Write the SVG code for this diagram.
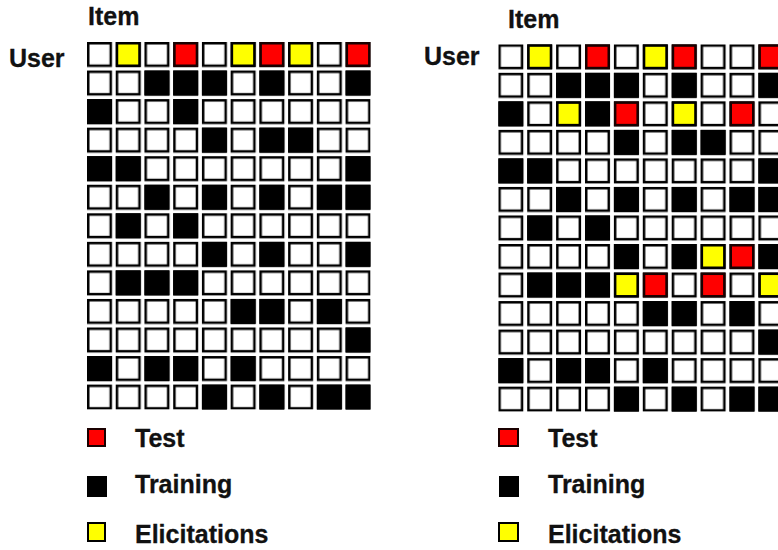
<svg xmlns="http://www.w3.org/2000/svg" width="778" height="550" viewBox="0 0 778 550">
<style>
text{font-family:"Liberation Sans",Arial,sans-serif;font-weight:bold;font-size:25px;fill:#111;stroke:#111;stroke-width:0.3}
.c{width:22.5px;height:22.5px;stroke-width:2.5}
.k{fill:#000;stroke:#000}
.r{fill:#ff0000;stroke:#1a0000}
.y{fill:#ffff00;stroke:#000}
.lg{stroke-width:2}
</style>
<defs>
<pattern id="pl" patternUnits="userSpaceOnUse" x="87" y="42" width="28.73" height="28.55">
<rect x="1.25" y="1.25" width="22.5" height="22.5" fill="#fff" stroke="#000" stroke-width="2.5"/>
</pattern>
<pattern id="pr" patternUnits="userSpaceOnUse" x="498.3" y="44.3" width="28.9" height="28.53">
<rect x="1.25" y="1.25" width="22.5" height="22.5" fill="#fff" stroke="#000" stroke-width="2.5"/>
</pattern>
</defs>
<rect width="778" height="550" fill="#fff"/>

<g id="left-matrix">
<text x="88" y="25">Item</text>
<text x="9" y="67">User</text>
<rect x="87" y="42" width="283.6" height="367.6" fill="url(#pl)"/>
<g transform="translate(88.25,43.25)">
<rect class="c y" x="28.73" y="0"/><rect class="c r" x="86.19" y="0"/><rect class="c y" x="143.65" y="0"/><rect class="c r" x="172.38" y="0"/><rect class="c y" x="201.11" y="0"/><rect class="c r" x="258.57" y="0"/>
<rect class="c k" x="57.46" y="28.55"/><rect class="c k" x="86.19" y="28.55"/><rect class="c k" x="114.92" y="28.55"/><rect class="c k" x="172.38" y="28.55"/><rect class="c k" x="258.57" y="28.55"/>
<rect class="c k" x="0" y="57.1"/><rect class="c k" x="86.19" y="57.1"/>
<rect class="c k" x="114.92" y="85.65"/><rect class="c k" x="172.38" y="85.65"/><rect class="c k" x="201.11" y="85.65"/>
<rect class="c k" x="0" y="114.2"/><rect class="c k" x="28.73" y="114.2"/><rect class="c k" x="258.57" y="114.2"/>
<rect class="c k" x="57.46" y="142.75"/><rect class="c k" x="114.92" y="142.75"/><rect class="c k" x="172.38" y="142.75"/><rect class="c k" x="229.84" y="142.75"/><rect class="c k" x="258.57" y="142.75"/>
<rect class="c k" x="28.73" y="171.3"/><rect class="c k" x="86.19" y="171.3"/>
<rect class="c k" x="114.92" y="199.85"/><rect class="c k" x="172.38" y="199.85"/><rect class="c k" x="258.57" y="199.85"/>
<rect class="c k" x="28.73" y="228.4"/><rect class="c k" x="57.46" y="228.4"/><rect class="c k" x="86.19" y="228.4"/>
<rect class="c k" x="143.65" y="256.95"/><rect class="c k" x="172.38" y="256.95"/><rect class="c k" x="229.84" y="256.95"/>
<rect class="c k" x="258.57" y="285.5"/>
<rect class="c k" x="0" y="314.05"/><rect class="c k" x="57.46" y="314.05"/><rect class="c k" x="86.19" y="314.05"/><rect class="c k" x="143.65" y="314.05"/>
<rect class="c k" x="114.92" y="342.6"/><rect class="c k" x="172.38" y="342.6"/><rect class="c k" x="229.84" y="342.6"/><rect class="c k" x="258.57" y="342.6"/>
</g>
</g>

<g id="left-legend">
<rect class="r lg" x="88" y="429" width="17" height="17"/>
<text x="135" y="447">Test</text>
<rect class="k lg" x="88" y="477" width="18" height="19"/>
<text x="135" y="493">Training</text>
<rect class="y lg" x="88" y="523" width="17" height="18"/>
<text x="135" y="543">Elicitations</text>
</g>

<g id="right-matrix">
<text x="508" y="28">Item</text>
<text x="424" y="65">User</text>
<rect x="498.3" y="44.3" width="280" height="367.4" fill="url(#pr)"/>
<g transform="translate(499.55,45.55)">
<rect class="c y" x="28.9" y="0"/><rect class="c r" x="86.7" y="0"/><rect class="c y" x="144.5" y="0"/><rect class="c r" x="173.4" y="0"/><rect class="c r" x="260.1" y="0"/>
<rect class="c k" x="57.8" y="28.53"/><rect class="c k" x="86.7" y="28.53"/><rect class="c k" x="115.6" y="28.53"/><rect class="c k" x="173.4" y="28.53"/><rect class="c k" x="260.1" y="28.53"/>
<rect class="c k" x="0" y="57.06"/><rect class="c y" x="57.8" y="57.06"/><rect class="c k" x="86.7" y="57.06"/><rect class="c r" x="115.6" y="57.06"/><rect class="c y" x="173.4" y="57.06"/><rect class="c r" x="231.2" y="57.06"/>
<rect class="c k" x="115.6" y="85.59"/><rect class="c k" x="173.4" y="85.59"/><rect class="c k" x="202.3" y="85.59"/>
<rect class="c k" x="0" y="114.12"/><rect class="c k" x="28.9" y="114.12"/><rect class="c k" x="260.1" y="114.12"/>
<rect class="c k" x="57.8" y="142.65"/><rect class="c k" x="115.6" y="142.65"/><rect class="c k" x="173.4" y="142.65"/><rect class="c k" x="231.2" y="142.65"/><rect class="c k" x="260.1" y="142.65"/>
<rect class="c k" x="28.9" y="171.18"/><rect class="c k" x="86.7" y="171.18"/>
<rect class="c k" x="115.6" y="199.71"/><rect class="c k" x="173.4" y="199.71"/><rect class="c y" x="202.3" y="199.71"/><rect class="c r" x="231.2" y="199.71"/><rect class="c k" x="260.1" y="199.71"/>
<rect class="c k" x="28.9" y="228.24"/><rect class="c k" x="57.8" y="228.24"/><rect class="c k" x="86.7" y="228.24"/><rect class="c y" x="115.6" y="228.24"/><rect class="c r" x="144.5" y="228.24"/><rect class="c r" x="202.3" y="228.24"/><rect class="c y" x="260.1" y="228.24"/>
<rect class="c k" x="144.5" y="256.77"/><rect class="c k" x="173.4" y="256.77"/><rect class="c k" x="231.2" y="256.77"/>
<rect class="c k" x="260.1" y="285.3"/>
<rect class="c k" x="0" y="313.83"/><rect class="c k" x="57.8" y="313.83"/><rect class="c k" x="86.7" y="313.83"/><rect class="c k" x="144.5" y="313.83"/>
<rect class="c k" x="115.6" y="342.36"/><rect class="c k" x="173.4" y="342.36"/><rect class="c k" x="231.2" y="342.36"/><rect class="c k" x="260.1" y="342.36"/>
</g>
</g>

<g id="right-legend">
<rect class="r lg" x="499" y="429" width="19" height="17"/>
<text x="548" y="447">Test</text>
<rect class="k lg" x="500" y="477" width="18" height="19"/>
<text x="548" y="493">Training</text>
<rect class="y lg" x="499" y="523" width="19" height="18"/>
<text x="548" y="543">Elicitations</text>
</g>
</svg>
